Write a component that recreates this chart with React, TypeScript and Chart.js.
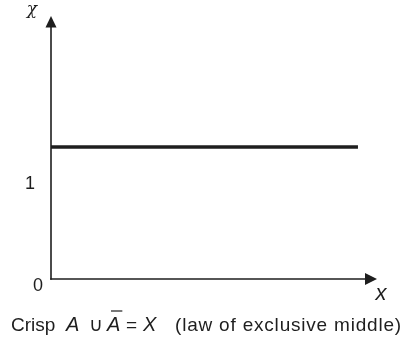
import React, { useEffect, useRef } from "react";
import { Chart, registerables } from "chart.js";

Chart.register(...registerables);

// Data
const membershipX = [0, 10];
const membershipY = [1.375, 1.375];
const yTickValues = [0, 1];
const yTickLabels = ["0", "1"];
const xRange = [0, 10.62];
const yRange = [0, 2.74];
const yAxisTitle = "χ";
const xAxisTitle = "x";
const captionTexts = ["Crisp", "A", "∪", "A", "=", "X", "(law of exclusive middle)"];
const captionItalic = [false, true, false, true, false, true, false];
const captionOverline = [false, false, false, true, false, false, false];

// Layout (pixel positions and sizes of caption pieces)
const captionX = [11, 66, 89, 107, 126, 143, 175];
const captionSize = [19, 20, 19, 20, 19, 20, 19];

const INK = "#1e1e1e";
const SANS = "'Liberation Sans', Arial, Helvetica, sans-serif";

const axesPlugin = {
  id: "axesPlugin",
  afterDraw(chart: any) {
    const ctx = chart.ctx;
    const { left, right, top, bottom } = chart.chartArea;
    const ys = chart.scales.y;
    ctx.save();
    ctx.strokeStyle = INK;
    ctx.fillStyle = INK;
    ctx.lineWidth = 1.6;
    // y axis
    ctx.beginPath();
    ctx.moveTo(left, bottom + 0.8);
    ctx.lineTo(left, top + 10);
    ctx.stroke();
    ctx.beginPath();
    ctx.moveTo(left, top);
    ctx.lineTo(left - 5.5, top + 11.5);
    ctx.lineTo(left + 5.5, top + 11.5);
    ctx.closePath();
    ctx.fill();
    // x axis
    ctx.beginPath();
    ctx.moveTo(left - 0.8, bottom);
    ctx.lineTo(right - 10, bottom);
    ctx.stroke();
    ctx.beginPath();
    ctx.moveTo(right, bottom);
    ctx.lineTo(right - 12, bottom - 6);
    ctx.lineTo(right - 12, bottom + 6);
    ctx.closePath();
    ctx.fill();

    // tick labels
    ctx.font = `18px ${SANS}`;
    ctx.textAlign = "center";
    ctx.textBaseline = "middle";
    yTickValues.forEach((v, i) => {
      const py = ys.getPixelForValue(v);
      if (v === 0) ctx.fillText(yTickLabels[i], left - 13, py + 7);
      else ctx.fillText(yTickLabels[i], left - 21, py + 1);
    });

    // axis titles
    ctx.font = `italic 17px 'DejaVu Serif', 'Liberation Serif', serif`;
    ctx.fillText(yAxisTitle, left - 19, top - 6);
    ctx.font = `italic 22px ${SANS}`;
    ctx.fillText(xAxisTitle, right + 4, bottom + 15);

    // caption
    ctx.textAlign = "left";
    ctx.textBaseline = "alphabetic";
    const by = 331;
    captionTexts.forEach((t, i) => {
      ctx.font = `${captionItalic[i] ? "italic " : ""}${captionSize[i]}px ${SANS}`;
      (ctx as any).letterSpacing = i === captionTexts.length - 1 ? "0.8px" : "0px";
      const cx = captionX[i];
      const w = ctx.measureText(t).width;
      ctx.fillText(t, cx, by);
      if (captionOverline[i]) {
        ctx.lineWidth = 1.2;
        ctx.beginPath();
        ctx.moveTo(cx + 4, by - 20);
        ctx.lineTo(cx + w + 2, by - 20);
        ctx.stroke();
      }
    });
    ctx.restore();
  },
};

export default function App() {
  const ref = useRef<HTMLCanvasElement>(null);
  useEffect(() => {
    if (!ref.current) return;
    const chart = new Chart(ref.current, {
      type: "line",
      data: {
        datasets: [
          {
            data: membershipX.map((x, i) => ({ x, y: membershipY[i] })),
            borderColor: INK,
            borderWidth: 3.5,
            pointRadius: 0,
            fill: false,
          },
        ],
      },
      options: {
        responsive: false,
        animation: false,
        layout: { padding: { left: 51, right: 37, top: 16, bottom: 63 } },
        plugins: { legend: { display: false }, tooltip: { enabled: false } },
        scales: {
          x: { type: "linear", min: xRange[0], max: xRange[1], display: false },
          y: { type: "linear", min: yRange[0], max: yRange[1], display: false },
        },
      },
      plugins: [axesPlugin],
    });
    return () => chart.destroy();
  }, []);
  return (
    <div style={{ position: "absolute", left: 0, top: 0, width: 414, height: 342, background: "#fff" }}>
      <canvas ref={ref} width={414} height={342} />
    </div>
  );
}
